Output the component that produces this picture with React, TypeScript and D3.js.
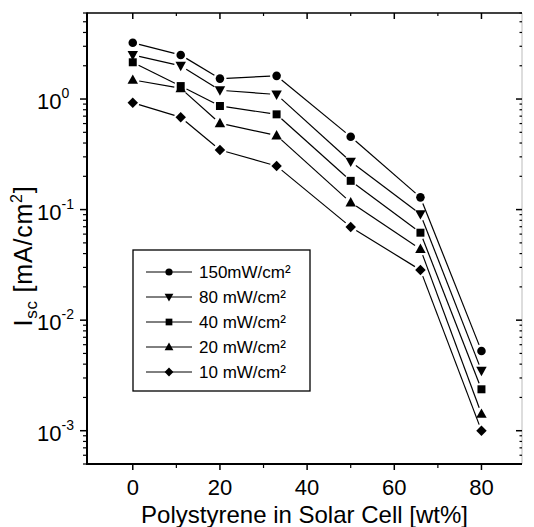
import React from "react";
import * as d3 from "d3";

// Short-circuit current density vs. polystyrene content, one series per light intensity
const polystyrene = [0, 11, 20, 33, 50, 66, 80];
const seriesLabels = ["150mW/cm²", "80 mW/cm²", "40 mW/cm²", "20 mW/cm²", "10 mW/cm²"];
const isc150 = [3.23, 2.5, 1.53, 1.62, 0.456, 0.129, 0.00527];
const isc80 = [2.5, 2.0, 1.2, 1.1, 0.272, 0.091, 0.00349];
const isc40 = [2.15, 1.31, 0.865, 0.727, 0.182, 0.0618, 0.00237];
const isc20 = [1.49, 1.25, 0.603, 0.468, 0.116, 0.044, 0.00142];
const isc10 = [0.926, 0.683, 0.346, 0.248, 0.0696, 0.0284, 0.001];
const markerShapes = ["circle", "triangleDown", "square", "triangleUp", "diamond"];

const xMajorTicks = [0, 20, 40, 60, 80];
const xMinorTicks = [10, 30, 50, 70];
const yDecades = [-3, -2, -1, 0];

const W = 534;
const H = 527;
const left = 87;
const right = 522;
const top = 13;
const bottom = 464;
const FONT = "'Liberation Sans', Arial, Helvetica, sans-serif";

const x = d3.scaleLinear().domain([-10.5, 89.3]).range([left, right]);
const y = d3.scaleLog().domain([5e-4, 6]).range([bottom, top]);

function markerPath(shape: string, s: number): string {
  switch (shape) {
    case "circle": {
      const r = s * 0.45;
      return `M${r},0A${r},${r} 0 1,1 ${-r},0A${r},${r} 0 1,1 ${r},0Z`;
    }
    case "square": {
      const h = s * 0.42;
      return `M${-h},${-h}H${h}V${h}H${-h}Z`;
    }
    case "triangleUp": {
      const h = s * 0.55;
      return `M0,${-h * 1.05}L${h},${h * 0.75}L${-h},${h * 0.75}Z`;
    }
    case "triangleDown": {
      const h = s * 0.55;
      return `M0,${h * 1.05}L${h},${-h * 0.75}L${-h},${-h * 0.75}Z`;
    }
    default: {
      const h = s * 0.55;
      return `M0,${-h}L${h},0L0,${h}L${-h},0Z`;
    }
  }
}

// Minor log ticks (2..9 within each decade) inside the y domain
const yMinorTicks: number[] = [];
for (let e = -4; e <= 0; e++) {
  for (let m = 2; m <= 9; m++) {
    const v = m * Math.pow(10, e);
    if (v >= 5e-4 && v <= 6) yMinorTicks.push(v);
  }
}

export default function App() {
  const series = [isc150, isc80, isc40, isc20, isc10];
  const gap = 6.5;

  const segments: { x1: number; y1: number; x2: number; y2: number }[] = [];
  series.forEach((vals) => {
    for (let i = 0; i < vals.length - 1; i++) {
      const ax = x(polystyrene[i]);
      const ay = y(vals[i]);
      const bx = x(polystyrene[i + 1]);
      const by = y(vals[i + 1]);
      const len = Math.hypot(bx - ax, by - ay);
      const ux = (bx - ax) / len;
      const uy = (by - ay) / len;
      segments.push({
        x1: ax + ux * gap,
        y1: ay + uy * gap,
        x2: bx - ux * gap,
        y2: by - uy * gap,
      });
    }
  });

  const legendX = 133;
  const legendY = 250;
  const legendW = 177;
  const legendH = 141;
  const rowY = (i: number) => 272 + i * 25;

  return (
    <svg
      width={W}
      height={H}
      viewBox={`0 0 ${W} ${H}`}
      style={{ position: "absolute", left: 0, top: 0, background: "#fff" }}
      fontFamily={FONT}
    >
      <rect x={0} y={0} width={W} height={H} fill="#fff" />

      {/* frame */}
      <line x1={right} y1={top} x2={right} y2={bottom} stroke="#aaa" strokeWidth={0.8} />
      <line x1={left} y1={top} x2={right} y2={top} stroke="#000" strokeWidth={1.5} />
      <line x1={left} y1={top - 0.5} x2={left} y2={bottom + 1} stroke="#000" strokeWidth={2} />
      <line x1={left - 1} y1={bottom} x2={right} y2={bottom} stroke="#000" strokeWidth={2} />

      {/* x ticks, bottom (outward) and top (inward) */}
      {xMajorTicks.map((t) => (
        <g key={`xm${t}`}>
          <line x1={x(t)} x2={x(t)} y1={bottom} y2={bottom + 6} stroke="#000" strokeWidth={1.5} />
          <line x1={x(t)} x2={x(t)} y1={top} y2={top + 6} stroke="#000" strokeWidth={1.5} />
          <text x={x(t)} y={495} textAnchor="middle" fontSize={22} fill="#000">
            {t}
          </text>
        </g>
      ))}
      {xMinorTicks.map((t) => (
        <g key={`xn${t}`}>
          <line x1={x(t)} x2={x(t)} y1={bottom} y2={bottom + 4} stroke="#000" strokeWidth={1.2} />
          <line x1={x(t)} x2={x(t)} y1={top} y2={top + 3} stroke="#000" strokeWidth={1.2} />
        </g>
      ))}

      {/* y ticks, left (outward) and right (inward) */}
      {yDecades.map((e) => {
        const yy = y(Math.pow(10, e));
        return (
          <g key={`yd${e}`}>
            <line x1={left - 7} x2={left} y1={yy} y2={yy} stroke="#000" strokeWidth={1.5} />
            <line x1={right - 6} x2={right} y1={yy} y2={yy} stroke="#000" strokeWidth={1.5} />
            <text x={37} y={yy + 10} fontSize={22} fill="#000">
              10
              <tspan fontSize={14} dy={-11}>
                {e === 0 ? "0" : `-${-e}`}
              </tspan>
            </text>
          </g>
        );
      })}
      {yMinorTicks.map((v, i) => (
        <g key={`yn${i}`}>
          <line x1={left - 4} x2={left} y1={y(v)} y2={y(v)} stroke="#000" strokeWidth={1.2} />
          <line x1={right - 2.5} x2={right} y1={y(v)} y2={y(v)} stroke="#000" strokeWidth={1.2} />
        </g>
      ))}

      {/* axis titles */}
      <text x={(left + right) / 2} y={523} textAnchor="middle" fontSize={24} fill="#000">
        Polystyrene in Solar Cell [wt%]
      </text>
      <text
        transform="translate(32,256) rotate(-90)"
        textAnchor="middle"
        fontSize={25}
        letterSpacing={0.8}
        fill="#000"
      >
        I
        <tspan fontSize={17} dy={5}>
          sc
        </tspan>
        <tspan dy={-5}> [mA/cm</tspan>
        <tspan fontSize={16} dy={-10}>
          2
        </tspan>
        <tspan dy={10}>]</tspan>
      </text>

      {/* connecting lines */}
      {segments.map((s, i) => (
        <line key={`s${i}`} x1={s.x1} y1={s.y1} x2={s.x2} y2={s.y2} stroke="#000" strokeWidth={1.2} />
      ))}

      {/* markers */}
      {series.map((vals, si) =>
        vals.map((v, i) => (
          <path
            key={`m${si}-${i}`}
            d={markerPath(markerShapes[si], 9.5)}
            transform={`translate(${x(polystyrene[i])},${y(v)})`}
            fill="#000"
          />
        ))
      )}

      {/* legend */}
      <rect
        x={legendX}
        y={legendY}
        width={legendW}
        height={legendH}
        fill="#fff"
        stroke="#000"
        strokeWidth={1.3}
      />
      {seriesLabels.map((label, i) => (
        <g key={`lg${i}`}>
          <line x1={146} x2={192} y1={rowY(i)} y2={rowY(i)} stroke="#000" strokeWidth={1} />
          <path
            d={markerPath(markerShapes[i], 8)}
            transform={`translate(169,${rowY(i)})`}
            fill="#000"
          />
          <text x={199} y={rowY(i) + 6} fontSize={17} fill="#000">
            {label}
          </text>
        </g>
      ))}
    </svg>
  );
}
